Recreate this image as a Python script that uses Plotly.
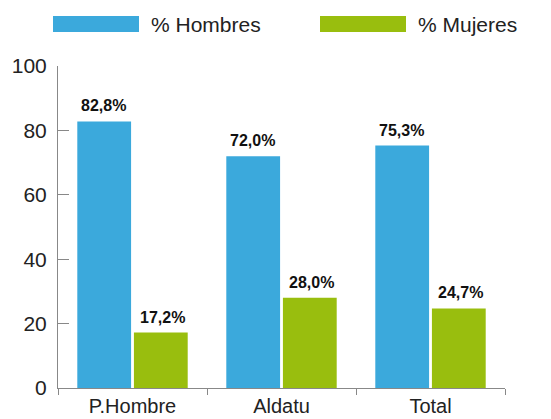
import plotly.graph_objects as go

categories = ["P.Hombre", "Aldatu", "Total"]
hombres = [82.8, 72.0, 75.3]
mujeres = [17.2, 28.0, 24.7]
series_names = ["% Hombres", "% Mujeres"]
y_ticks = [0, 20, 40, 60, 80, 100]

BLUE = "#3BA9DC"
GREEN = "#99BE0E"
FONT = "Liberation Sans"

def lab(v):
    return f"{v:.1f}%".replace(".", ",")

fig = go.Figure()
for name, vals, col in [(series_names[0], hombres, BLUE), (series_names[1], mujeres, GREEN)]:
    fig.add_trace(go.Bar(
        x=categories, y=vals, name=name, marker_color=col, marker_line_width=0,
    ))

# value labels above bars
for vals, shift in [(hombres, -29.5), (mujeres, 29.5)]:
    for c, v in zip(categories, vals):
        fig.add_annotation(x=c, y=v, xref="x", yref="y", text=f"<b>{lab(v)}</b>",
                           showarrow=False, xshift=shift, yshift=5, yanchor="bottom",
                           xanchor="center",
                           font=dict(family=FONT, size=16, color="#111"))

fig.update_layout(
    width=551, height=419,
    margin=dict(l=58, r=46, t=66, b=31, pad=0, autoexpand=False),
    paper_bgcolor="white", plot_bgcolor="white",
    barmode="group", bargap=0.24, bargroupgap=0.05,
    showlegend=False,
    font=dict(family=FONT, size=21, color="#222"),
)
fig.update_yaxes(range=[0, 100], tickvals=y_ticks, showgrid=False, zeroline=False,
                 showline=True, linecolor="#888", linewidth=1, automargin=False,
                 ticks="inside", ticklen=11, tickcolor="#888",
                 ticklabelstandoff=6,
                 tickfont=dict(family=FONT, size=21, color="#222"))
fig.update_xaxes(showgrid=False, showline=True, linecolor="#888", linewidth=1,
                 automargin=False,
                 ticks="outside", tickson="boundaries", ticklen=6, tickcolor="#888",
                 tickfont=dict(family=FONT, size=20, color="#222"))

# legend drawn manually with wide swatches
legend_items = [(series_names[0], BLUE, 53), (series_names[1], GREEN, 320)]
for name, col, x0 in legend_items:
    fig.add_shape(type="rect", xref="paper", yref="paper",
                  x0=(x0 - 58) / 447, x1=(x0 + 86 - 58) / 447,
                  y0=(419 - 31 - 32) / 322, y1=(419 - 31 - 16) / 322,
                  fillcolor=col, line_width=0)
    fig.add_annotation(xref="paper", yref="paper", x=(x0 + 96 - 58) / 447,
                       y=(419 - 31 - 24) / 322, text=name, showarrow=False,
                       xanchor="left", yanchor="middle",
                       font=dict(family=FONT, size=21, color="#222"))

fig.write_html("out.html", config={"displayModeBar": False},
               post_script="document.body.style.margin='0';document.body.style.overflow='hidden';")
